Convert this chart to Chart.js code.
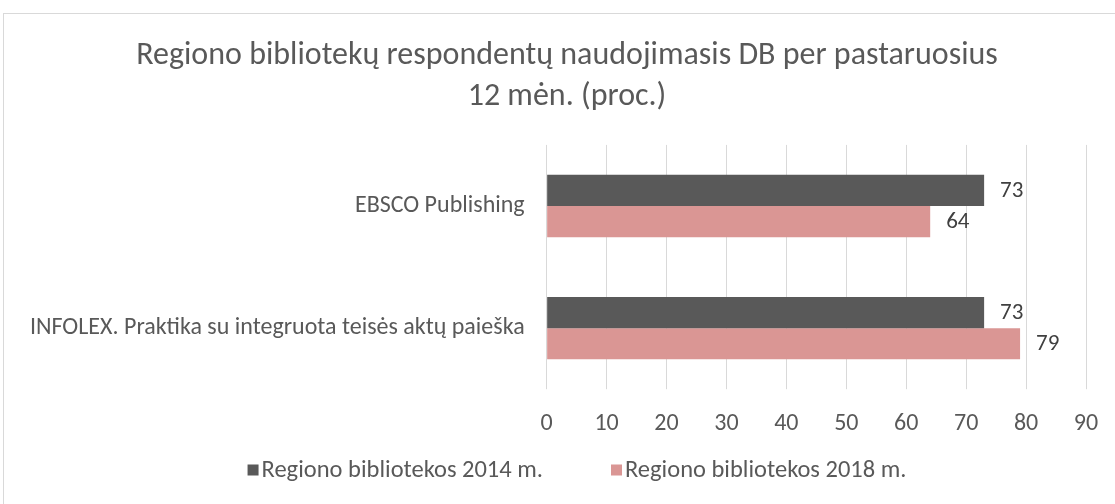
<!DOCTYPE html>
<html>
<head>
<meta charset="utf-8">
<script src="https://cdn.jsdelivr.net/npm/chart.js@4"></script>
<style>
  html, body { margin: 0; padding: 0; background: #fff; overflow: hidden; }
  #box {
    position: absolute; left: 3px; top: 13px;
    width: 1126px; height: 490px;
    border-left: 1px solid #d9d9d9; border-top: 1px solid #d9d9d9;
  }
</style>
</head>
<body>
<div id="box"><canvas id="chart" width="1126" height="490"></canvas></div>
<script>
  // data
  const categories = ['EBSCO Publishing', 'INFOLEX. Praktika su integruota teisės aktų paieška'];
  const seriesLabels = ['Regiono bibliotekos 2014 m.', 'Regiono bibliotekos 2018 m.'];
  const values2014 = [73, 73];
  const values2018 = [64, 79];
  const xTicks = [0, 10, 20, 30, 40, 50, 60, 70, 80, 90];
  const seriesColors = ['#595959', '#DA9694'];

  const FONT = "Carlito, 'Open Sans', sans-serif";

  // value labels at the end of each bar
  const valueLabels = {
    id: 'valueLabels',
    afterDatasetsDraw(chart) {
      const c = chart.ctx;
      c.save();
      c.font = '23px ' + FONT;
      c.fillStyle = '#404040';
      c.textBaseline = 'middle';
      c.textAlign = 'left';
      chart.data.datasets.forEach((ds, i) => {
        chart.getDatasetMeta(i).data.forEach((bar, j) => {
          c.fillText(ds.data[j], bar.x + 16, bar.y + 1);
        });
      });
      c.restore();
    }
  };

  // legend drawn by hand, so box-to-text gap matches the original
  const bottomLegend = {
    id: 'bottomLegend',
    afterDraw(chart) {
      const c = chart.ctx;
      const box = 11, gap = 3, itemGap = 68;
      c.save();
      c.font = '24.5px ' + FONT;
      c.textBaseline = 'middle';
      const items = chart.data.datasets.map(ds => ({
        text: ds.label, color: ds.backgroundColor, w: box + gap + c.measureText(ds.label).width
      }));
      const total = items.reduce((s, it) => s + it.w, 0) + itemGap * (items.length - 1);
      let x = (chart.width - total) / 2 + 10;
      const y = 456;
      items.forEach(it => {
        c.fillStyle = it.color;
        c.fillRect(x, y - box / 2, box, box);
        c.fillStyle = '#595959';
        c.fillText(it.text, x + box + gap, y + 1);
        x += it.w + itemGap;
      });
      c.restore();
    }
  };

  new Chart(document.getElementById('chart'), {
    type: 'bar',
    data: {
      labels: categories,
      datasets: [
        { label: seriesLabels[0], data: values2014, backgroundColor: seriesColors[0] },
        { label: seriesLabels[1], data: values2018, backgroundColor: seriesColors[1] }
      ]
    },
    options: {
      indexAxis: 'y',
      responsive: false,
      animation: false,
      categoryPercentage: 0.51,
      barPercentage: 1.0,
      layout: { padding: { left: 12, right: 12, top: 0, bottom: 46 } },
      plugins: {
        title: {
          display: true,
          text: ['Regiono bibliotekų respondentų naudojimasis DB per pastaruosius', '12 mėn. (proc.)'],
          color: '#595959',
          font: { family: FONT, size: 32, weight: 'normal', lineHeight: 1.28 },
          padding: { top: 22, bottom: 27 }
        },
        legend: { display: false },
        tooltip: { enabled: false }
      },
      scales: {
        x: {
          min: 0,
          max: 90,
          afterBuildTicks: (axis) => { axis.ticks = xTicks.map(v => ({ value: v })); },
          afterFit: (axis) => { axis.paddingRight = 44; },
          grid: { color: '#d9d9d9', lineWidth: 1, tickLength: 0 },
          border: { display: false },
          ticks: { color: '#595959', font: { family: FONT, size: 24 }, padding: 20 }
        },
        y: {
          grid: { display: false },
          border: { display: false },
          ticks: { color: '#595959', font: { family: FONT, size: 24 }, padding: 14 }
        }
      }
    },
    plugins: [valueLabels, bottomLegend]
  });
</script>
</body>
</html>
